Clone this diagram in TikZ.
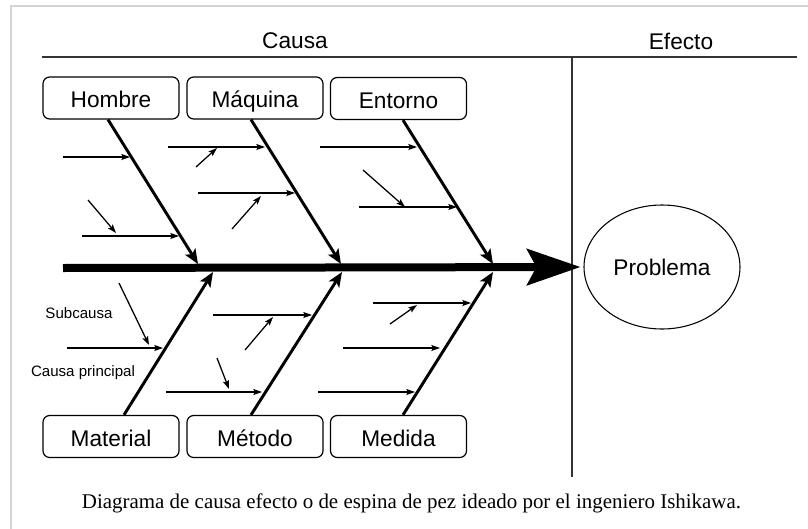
\documentclass[tikz,border=0pt]{standalone}
\usepackage{fontspec}
\setmainfont{Liberation Serif}
\setsansfont{Liberation Sans}
\usetikzlibrary{arrows.meta,calc,shapes.geometric}
\definecolor{framegray}{HTML}{D4D4D4}
\definecolor{rulegray}{HTML}{333333}
\begin{document}
\begin{tikzpicture}[x=0.75pt,y=-0.75pt,
  causebox/.style={draw, rounded corners=5pt, line width=0.9pt, minimum width=102pt, minimum height=31.5pt, inner sep=0pt, text height=17.5pt, text depth=3pt, font=\sffamily\fontsize{17}{20}\selectfont},
  headtext/.style={font=\sffamily\fontsize{17}{20}\selectfont, inner sep=0pt},
  smalltext/.style={font=\sffamily\fontsize{11.3}{13}\selectfont, inner sep=0pt},
  bone/.style={line width=2.2pt, -{Stealth[length=11pt,width=9pt,inset=2.5pt]}},
  subarrow/.style={line width=0.95pt, -{Stealth[length=6.5pt,width=4.5pt,inset=1.2pt]}},
  spine/.style={line width=6pt, -{Stealth[length=40pt,width=27pt,inset=7pt]}, shorten >=2.25pt},
  rulel/.style={line width=1.1pt, draw=rulegray}
]
\useasboundingbox (0,0) rectangle (808,529);
% outer frame
\draw[framegray, line width=1pt] (808,6) -- (11,6) -- (11,529);

% header
\node[headtext] (causa) at (295,41) {Causa};
\node[headtext] (efecto) at (681,41) {Efecto};
\draw[rulel] (42,57) -- (797,57);
\draw[rulel] (572,57) -- (572,477);

% cause boxes
\node[causebox] (hom) at (111,98) {Hombre};
\node[causebox] (maq) at (255,98) {Máquina};
\node[causebox] (ent) at (398.5,98.5) {Entorno};
\node[causebox] (mat) at (111,436.5) {Material};
\node[causebox] (met) at (255,436.5) {Método};
\node[causebox] (med) at (398.5,436.5) {Medida};

% effect
\node[draw, ellipse, line width=0.8pt, minimum width=117pt, minimum height=93pt, inner sep=0pt, font=\sffamily\fontsize{17}{20}\selectfont] (prob) at (662,267) {Problema};

% spine
\coordinate (sp) at (63,268);
\draw[spine] (sp) -- (prob.west);

% bone end points on the spine
\coordinate (hb) at (198,264);
\coordinate (qb) at (341,264);
\coordinate (eb) at (493,264);
\coordinate (mb) at (213,272);
\coordinate (tb) at (342,272);
\coordinate (db) at (493,272);

\draw[bone] ($(hom.south)+(-3,0)$) -- (hb);
\draw[bone] ($(maq.south)+(-4,0)$) -- (qb);
\draw[bone] ($(ent.south)+(4.5,0)$) -- (eb);
\draw[bone] ($(mat.north)+(13,0)$) -- (mb);
\draw[bone] ($(met.north)+(-4,0)$) -- (tb);
\draw[bone] ($(med.north)+(4.5,0)$) -- (db);

% sub-causes: Hombre
\draw[subarrow] (63,157) -- (130,157);
\draw[subarrow] (82,236) -- (179,236);
\draw[subarrow] (88,200) -- (116,233);
% Maquina
\draw[subarrow] (168,147) -- (265,147);
\draw[subarrow] (196,167) -- (217,148);
\draw[subarrow] (198,193) -- (295,193);
\draw[subarrow] (232,229) -- (261,196);
% Entorno
\draw[subarrow] (320,147) -- (417,147);
\draw[subarrow] (363,170) -- (405,207);
\draw[subarrow] (359,207) -- (457,207);
% Material
\draw[subarrow] (67,348) -- (163,348);
\draw[subarrow] (119,283) -- (149,345);
% Metodo
\draw[subarrow] (213,315) -- (312,315);
\draw[subarrow] (245,350) -- (273,317);
\draw[subarrow] (166,392) -- (262,392);
\draw[subarrow] (217,358) -- (229,389);
% Medida
\draw[subarrow] (373,303) -- (471,303);
\draw[subarrow] (390,324) -- (417,305);
\draw[subarrow] (343,348) -- (440,348);
\draw[subarrow] (318,392) -- (415,392);

% labels
\node[smalltext] (subl) at (79,313) {Subcausa};
\node[smalltext] (cpl) at (83,373) {Causa principal};

% caption
\node[font=\fontsize{15.7}{19}\selectfont, inner sep=0pt] (cap) at (411.5,503) {Diagrama de causa efecto o de espina de pez ideado por el ingeniero Ishikawa.};
\end{tikzpicture}
\end{document}
